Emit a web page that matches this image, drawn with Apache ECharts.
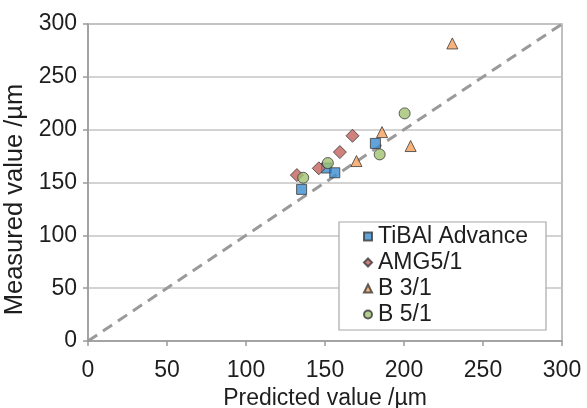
<!DOCTYPE html>
<html>
<head>
<meta charset="utf-8">
<script src="https://cdn.jsdelivr.net/npm/echarts@6/dist/echarts.min.js"></script>
<style>html,body{margin:0;padding:0;background:#fff;}#c{width:587px;height:408px;}</style>
</head>
<body>
<div id="c"></div>
<script>
const seriesNames = ['TiBAl Advance', 'AMG5/1', 'B 3/1', 'B 5/1'];
const tibalX = [135.2, 150.9, 156.2, 181.9];
const tibalY = [143.5, 163.7, 159.2, 187.0];
const amgX = [132.2, 146.1, 159.4, 167.4];
const amgY = [157.0, 163.4, 178.8, 194.2];
const b31X = [169.9, 186.1, 204.2, 230.6];
const b31Y = [170.3, 197.7, 184.5, 281.6];
const b51X = [136.2, 151.8, 184.6, 200.4];
const b51Y = [154.5, 168.4, 176.6, 215.4];
const refLine = [[0, 0], [300, 300]];
const xTicks = [0, 50, 100, 150, 200, 250, 300];
const yTicks = [0, 50, 100, 150, 200, 250, 300];

const zip = (xs, ys) => xs.map((x, i) => [x, ys[i]]);
const font = 'Liberation Sans, Arial, Helvetica, sans-serif';
const txt = '#1e1e1e';
const border = {borderColor: '#3a3a3a', borderWidth: 1};

const chart = echarts.init(document.getElementById('c'), null, {renderer: 'canvas'});
chart.setOption({
  animation: false,
  backgroundColor: '#fff',
  grid: {left: 88, right: 25, top: 24, bottom: 67, containLabel: false, outerBoundsMode: 'none',
         show: true, borderColor: '#aaaaaa', borderWidth: 1.5, backgroundColor: 'transparent'},
  xAxis: {
    type: 'value', min: xTicks[0], max: xTicks[xTicks.length - 1], interval: 50,
    name: 'Predicted value /\u00b5m', nameLocation: 'middle', nameGap: 45,
    nameTextStyle: {fontFamily: font, fontSize: 23, color: txt},
    axisLine: {show: true, lineStyle: {color: '#9a9a9a', width: 1.5}},
    axisTick: {show: true, inside: false, length: 5, lineStyle: {color: '#9a9a9a', width: 1.5}},
    axisLabel: {fontFamily: font, fontSize: 23, color: txt, margin: 18},
    splitLine: {show: false}
  },
  yAxis: {
    type: 'value', min: yTicks[0], max: yTicks[yTicks.length - 1], interval: 50,
    name: 'Measured value /\u00b5m', nameLocation: 'middle', nameGap: 54, nameRotate: 90,
    nameTextStyle: {fontFamily: font, fontSize: 25.5, color: txt, padding: [0, 34, 0, 0]},
    axisLine: {show: true, lineStyle: {color: '#9a9a9a', width: 1.5}},
    axisTick: {show: true, inside: false, length: 5, lineStyle: {color: '#9a9a9a', width: 1.5}},
    axisLabel: {fontFamily: font, fontSize: 23, color: txt, margin: 11},
    splitLine: {show: true, lineStyle: {color: '#c4c4c4', width: 1.5}}
  },
  legend: {
    data: seriesNames,
    orient: 'vertical', left: 339, top: 222,
    padding: [3, 18, 4, 24],
    itemGap: 3, itemWidth: 8, itemHeight: 8,
    backgroundColor: '#fff', borderColor: '#a8a8a8', borderWidth: 1.2,
    textStyle: {fontFamily: font, fontSize: 23, color: txt, padding: [0, 0, 0, 1]}
  },
  series: [
    {type: 'line', data: refLine, symbol: 'none', silent: true, z: 1,
     lineStyle: {color: '#9a9a9a', width: 3, type: [11, 7]}},
    {name: seriesNames[0], type: 'scatter', symbol: 'rect', symbolSize: 10, data: zip(tibalX, tibalY),
     itemStyle: Object.assign({color: '#3b8dcf'}, border)},
    {name: seriesNames[1], type: 'scatter', symbol: 'diamond', symbolSize: 13, data: zip(amgX, amgY),
     itemStyle: Object.assign({color: '#c3625c'}, border)},
    {name: seriesNames[2], type: 'scatter', symbol: 'triangle', symbolSize: 11, data: zip(b31X, b31Y),
     itemStyle: Object.assign({color: '#f5a05a'}, border)},
    {name: seriesNames[3], type: 'scatter', symbol: 'circle', symbolSize: 11, data: zip(b51X, b51Y),
     itemStyle: Object.assign({color: '#a0c270'}, border)}
  ]
});
</script>
</body>
</html>
